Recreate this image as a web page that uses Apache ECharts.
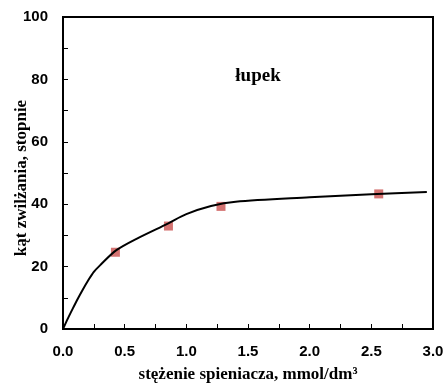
<!DOCTYPE html>
<html><head><meta charset="utf-8">
<script src="https://cdn.jsdelivr.net/npm/echarts@6/dist/echarts.min.js"></script>
<style>html,body{margin:0;padding:0;background:#fff}#c{width:444px;height:384px}</style>
</head><body><div id="c"></div>
<script>
const markerX = [0.425, 0.855, 1.281, 2.56];
const markerY = [24.6, 33.0, 39.3, 43.3];
const curveX = [0, 0.04, 0.08, 0.12, 0.16, 0.2, 0.25, 0.3, 0.43, 0.6, 0.85, 1.0, 1.2, 1.4, 2.0, 2.5, 2.95];
const curveY = [0, 3.4, 6.6, 9.7, 12.6, 15.3, 18.3, 20.4, 25.2, 29.0, 33.8, 36.8, 39.4, 40.8, 42.2, 43.2, 43.9];
const xTicks = ['0.0','0.5','1.0','1.5','2.0','2.5','3.0'];
const yTicks = ['0','20','40','60','80','100'];

const chart = echarts.init(document.getElementById('c'), null, {renderer:'canvas'});
const tickFont = {fontFamily:'Liberation Sans', fontWeight:'bold', fontSize:15, color:'#000'};
const nameFont = {fontFamily:'Liberation Serif', fontWeight:'bold', fontSize:17, color:'#000'};
chart.setOption({
  animation:false,
  grid:{left:63, right:11, top:17, bottom:55, show:true, borderColor:'#000', borderWidth:2,
    containLabel:false, outerBoundsMode:'none'},
  title:{text:'łupek', left:253, top:62, textAlign:'center',
    textStyle:{fontFamily:'Liberation Serif', fontWeight:'bold', fontSize:19, color:'#000'}},
  xAxis:{type:'value', min:0, max:3, interval:0.5,
    axisLine:{lineStyle:{color:'#000', width:2}},
    axisTick:{inside:true, length:5, lineStyle:{color:'#000', width:1}},
    minorTick:{show:true, splitNumber:2, length:5, lineStyle:{color:'#000', width:1}},
    splitLine:{show:false},
    axisLabel:Object.assign({margin:15, formatter:v=>xTicks[Math.round(v/0.5)]}, tickFont),
    name:'stężenie spieniacza, mmol/dm³', nameLocation:'middle', nameGap:37, nameMoveOverlap:false,
    nameTextStyle:nameFont},
  yAxis:{type:'value', min:0, max:100, interval:20,
    axisLine:{lineStyle:{color:'#000', width:2}},
    axisTick:{inside:true, length:5, lineStyle:{color:'#000', width:1}},
    minorTick:{show:true, splitNumber:2, length:5, lineStyle:{color:'#000', width:1}},
    splitLine:{show:false},
    axisLabel:Object.assign({margin:15, formatter:v=>yTicks[Math.round(v/20)]}, tickFont),
    name:'kąt zwilżania, stopnie', nameLocation:'middle', nameGap:33, nameMoveOverlap:false,
    nameTextStyle:Object.assign({padding:[0,10,0,0]}, nameFont)},
  series:[
    {type:'line', data:curveX.map((x,i)=>[x,curveY[i]]), smooth:0.3, showSymbol:false,
      lineStyle:{color:'#000', width:2}, z:3},
    {type:'scatter', data:markerX.map((x,i)=>[x,markerY[i]]), symbol:'rect', symbolSize:9,
      itemStyle:{color:'#c9504f'}, z:2}
  ]
});
</script></body></html>
